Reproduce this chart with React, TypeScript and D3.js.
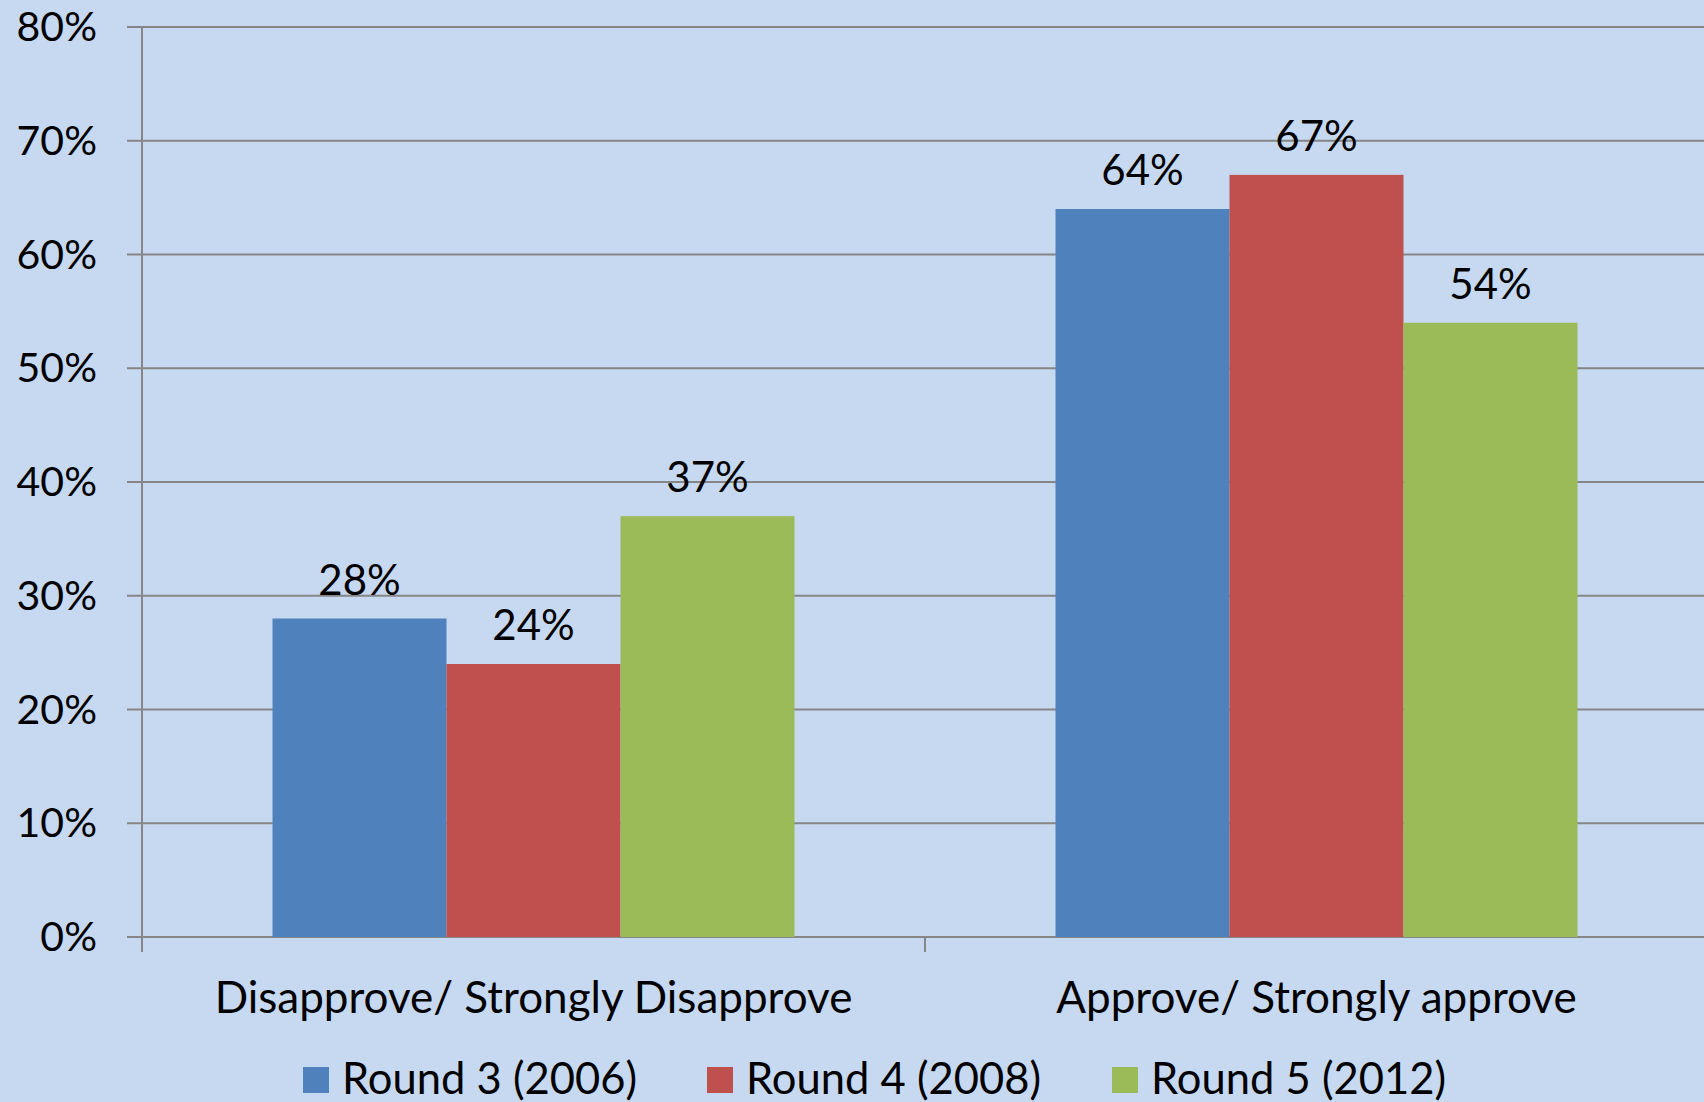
import React from "react";
import * as d3 from "d3";

const categories = ["Disapprove/ Strongly Disapprove", "Approve/ Strongly approve"];
const seriesNames = ["Round 3 (2006)", "Round 4 (2008)", "Round 5 (2012)"];
const round3 = [28, 64];
const round4 = [24, 67];
const round5 = [37, 54];
const seriesValues = [round3, round4, round5];
const seriesColors = ["#4F81BD", "#C0504D", "#9BBB59"];
const yTicks = [0, 10, 20, 30, 40, 50, 60, 70, 80];

const W = 1704;
const H = 1102;
const FONT = "Lato, 'Open Sans', sans-serif";

export default function App() {
  const x0 = 142;
  const catW = 783;
  const x = d3.scaleBand<string>().domain(categories).range([x0, x0 + catW * categories.length]).paddingInner(0).paddingOuter(0);
  const xs = d3.scaleBand<string>().domain(seriesNames).range([0, x.bandwidth()]).paddingInner(0).paddingOuter(0.75);
  const y = d3.scaleLinear().domain([0, 80]).range([937, 27]);
  const grid = "#868686";

  const legendX = [303, 707, 1112];

  return (
    <svg width={W} height={H} style={{ position: "absolute", left: 0, top: 0, display: "block" }}>
      <rect x={0} y={0} width={W} height={H} fill="#C6D9F1" />
      {yTicks.map((t) => (
        <g key={t}>
          <line x1={127} x2={W} y1={y(t)} y2={y(t)} stroke={grid} strokeWidth={2} />
          <text x={97} y={y(t) + 14} textAnchor="end" fontFamily={FONT} fontSize={41} fill="#000">
            {t}%
          </text>
        </g>
      ))}
      <line x1={x0} x2={x0} y1={y(80)} y2={952} stroke={grid} strokeWidth={2} />
      {categories.map((c) => (
        <line key={c} x1={(x(c) as number) + catW} x2={(x(c) as number) + catW} y1={y(0)} y2={952} stroke={grid} strokeWidth={2} />
      ))}
      {categories.map((c, ci) => (
        <g key={c}>
          {seriesNames.map((s, si) => {
            const v = seriesValues[si][ci];
            const bx = (x(c) as number) + (xs(s) as number);
            return (
              <g key={s}>
                <rect x={bx} y={y(v)} width={xs.bandwidth()} height={y(0) - y(v)} fill={seriesColors[si]} />
                <text x={bx + xs.bandwidth() / 2} y={y(v) - 24} textAnchor="middle" fontFamily={FONT} fontSize={42} fill="#000">
                  {v}%
                </text>
              </g>
            );
          })}
          <text x={(x(c) as number) + catW / 2} y={1013} textAnchor="middle" fontFamily={FONT} fontSize={44} fill="#000">
            {c}
          </text>
        </g>
      ))}
      {seriesNames.map((s, si) => (
        <g key={s}>
          <rect x={legendX[si]} y={1067} width={26} height={26} fill={seriesColors[si]} />
          <text x={legendX[si] + 39} y={1094} fontFamily={FONT} fontSize={43.5} fill="#000">
            {s}
          </text>
        </g>
      ))}
    </svg>
  );
}
